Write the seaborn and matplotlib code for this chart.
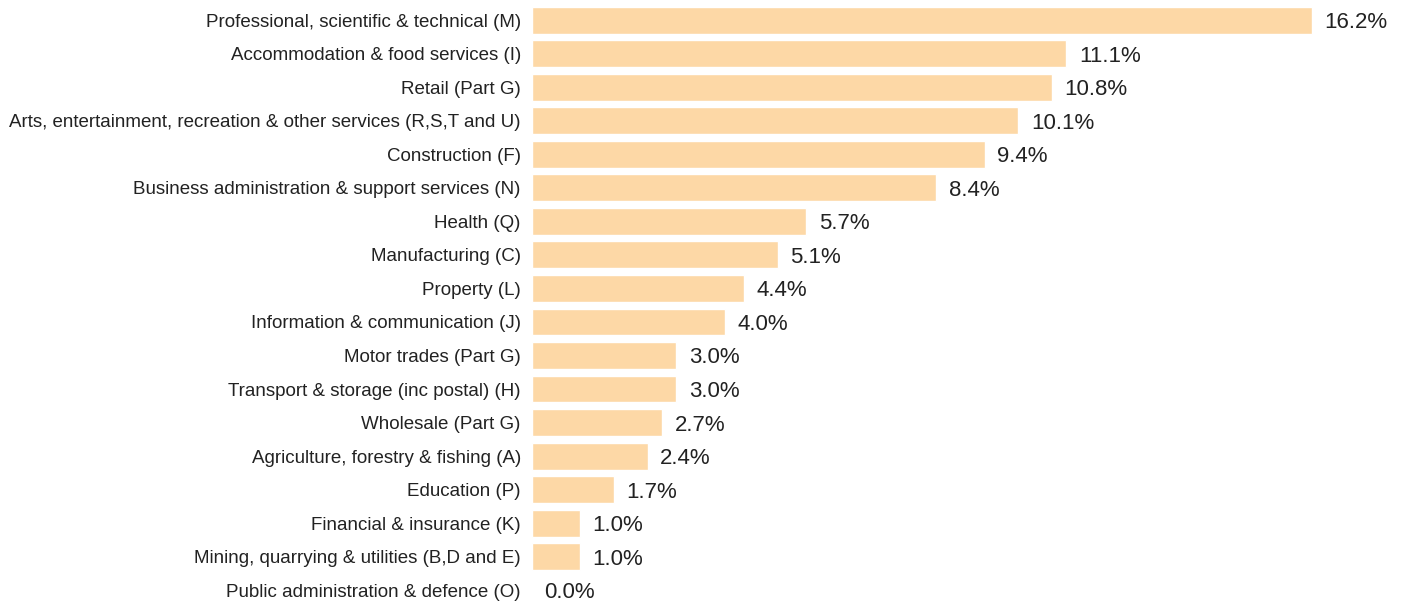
import matplotlib
matplotlib.use("Agg")
from matplotlib import pyplot as plt
import pandas as pd
import seaborn as sns

sectors = [
    "Professional, scientific & technical (M)",
    "Accommodation & food services (I)",
    "Retail (Part G)",
    "Arts, entertainment, recreation & other services (R,S,T and U)",
    "Construction (F)",
    "Business administration & support services (N)",
    "Health (Q)",
    "Manufacturing (C)",
    "Property (L)",
    "Information & communication (J)",
    "Motor trades (Part G)",
    "Transport & storage (inc postal) (H)",
    "Wholesale (Part G)",
    "Agriculture, forestry & fishing (A)",
    "Education (P)",
    "Financial & insurance (K)",
    "Mining, quarrying & utilities (B,D and E)",
    "Public administration & defence (O)",
]
shares = [16.2, 11.1, 10.8, 10.1, 9.4, 8.4, 5.7, 5.1, 4.4, 4.0,
          3.0, 3.0, 2.7, 2.4, 1.7, 1.0, 1.0, 0.0]

df = pd.DataFrame({"sector": sectors, "share": shares})

sns.set_style("white")
plt.rcParams["font.family"] = ["Liberation Sans", "DejaVu Sans"]

fig = plt.figure(figsize=(14.05, 6.03), dpi=100)
ax = fig.add_axes([0.3786, 0.0, 0.6214, 1.0])

sns.barplot(data=df, x="share", y="sector", orient="h", color="#fdd8a6",
            saturation=1, width=0.8, ax=ax)

labels = ax.bar_label(ax.containers[0], labels=[f"{v:.1f}%" for v in shares],
                      padding=9, fontsize=16, color="#222222")
for t in labels:
    t.set_verticalalignment("center_baseline")

ax.set_xlim(0, 18.13)
ax.set_ylim(17.38, -0.60)
ax.set_xlabel("")
ax.set_ylabel("")
ax.set_xticks([])
ax.tick_params(axis="y", length=0, pad=8, labelsize=13.5, labelcolor="#222222")
sns.despine(ax=ax, left=True, bottom=True)

fig.savefig("out.png", dpi=100)
